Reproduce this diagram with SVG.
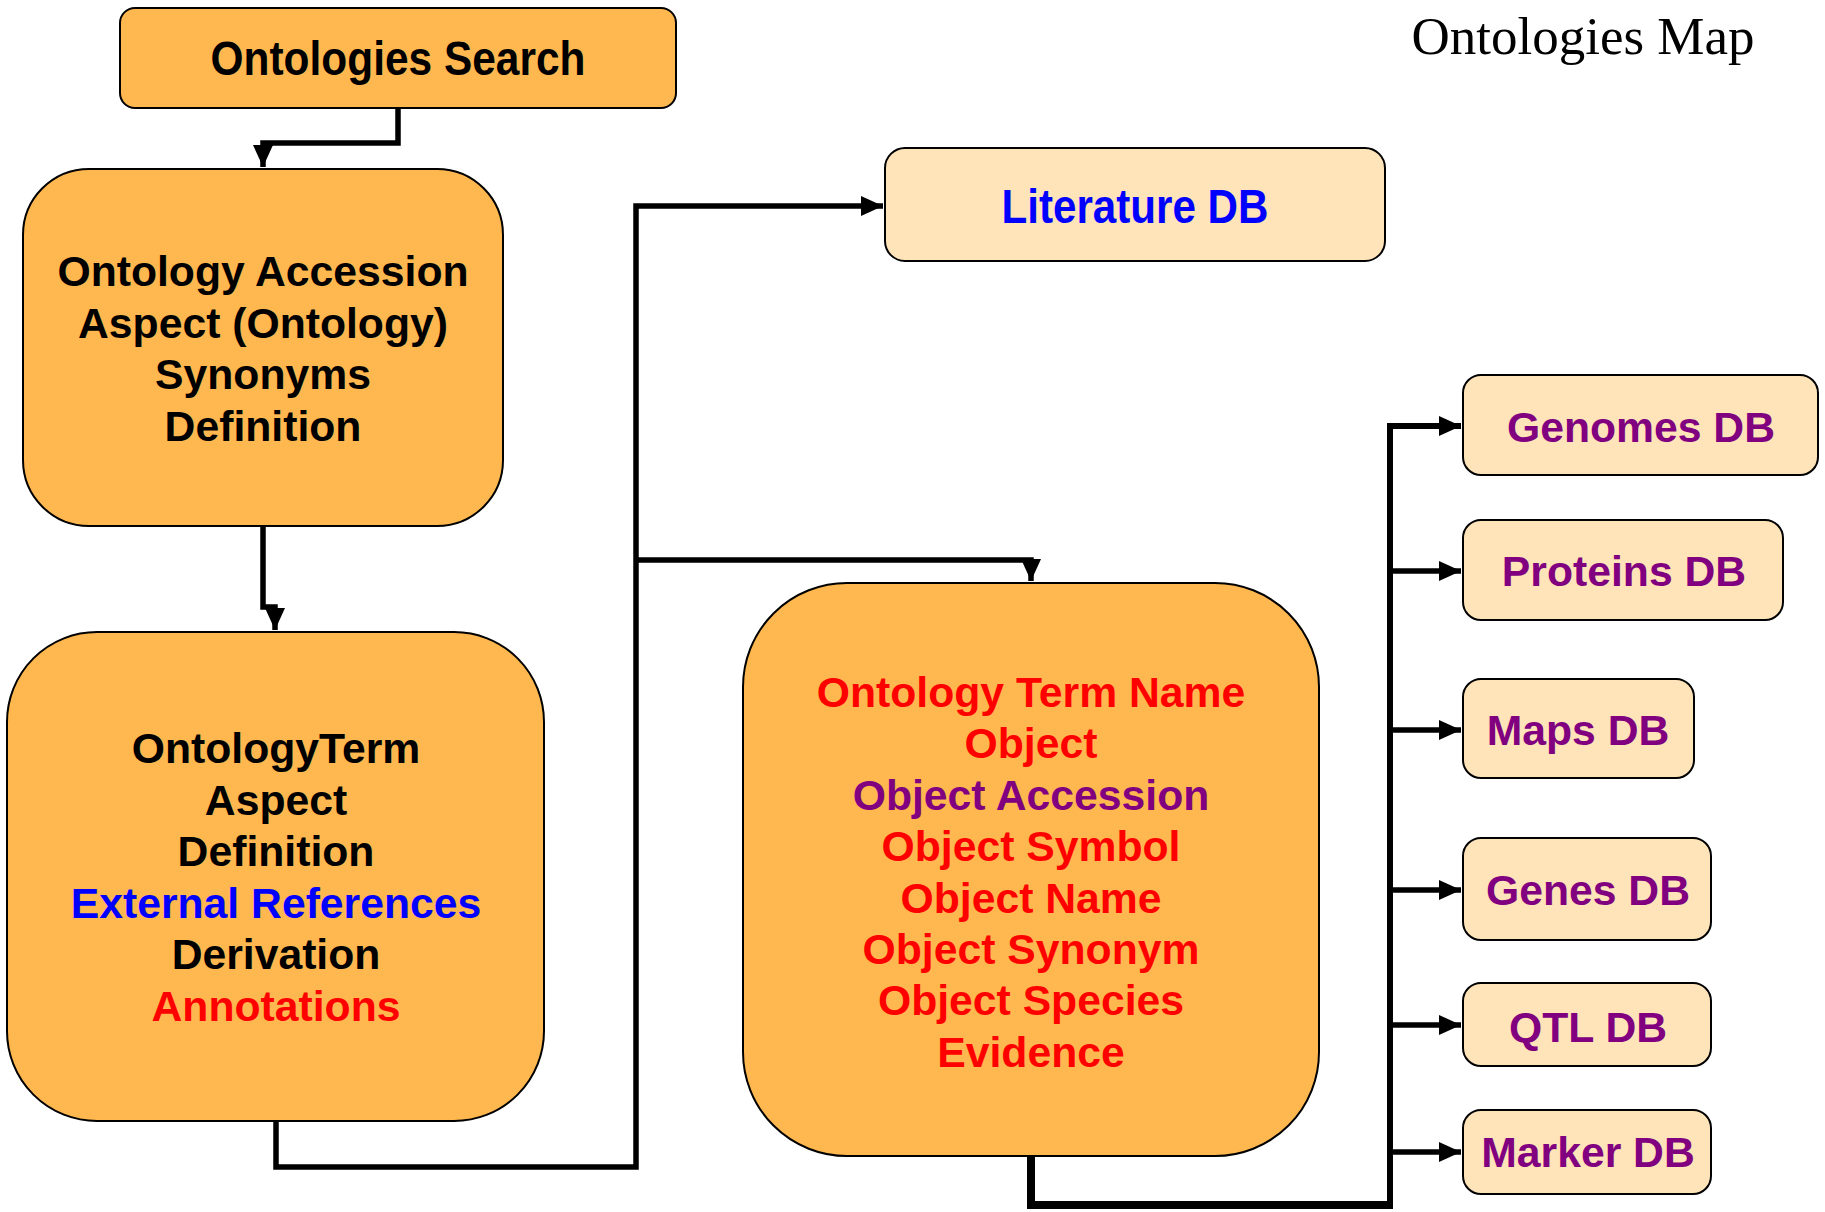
<svg xmlns="http://www.w3.org/2000/svg" width="1825" height="1212" viewBox="0 0 1825 1212">
<style>
  .orange { fill: #FFB74F; stroke: #000; stroke-width: 2; }
  .light { fill: #FFE3B9; stroke: #000; stroke-width: 2; }
  .t { font-family: "Liberation Sans", Arial, sans-serif; font-weight: bold; font-size: 42.7px; text-anchor: middle; }
  .blk { fill: #000; }
  .blue { fill: #0000FF; }
  .red { fill: #FF0000; }
  .pur { fill: #800080; }
  .wire { fill: none; stroke: #000; stroke-width: 5.5; stroke-linejoin: miter; }
  .title { font-family: "Liberation Serif", "Times New Roman", serif; font-size: 53px; text-anchor: middle; fill: #000; }
</style>
<defs>
  <marker id="arr" markerUnits="userSpaceOnUse" markerWidth="24" markerHeight="22" refX="22" refY="10" orient="auto">
    <path d="M0,0 L22,10 L0,20 z" fill="#000"/>
  </marker>
</defs>
<rect width="1825" height="1212" fill="#fff"/>

<text class="title" x="1583" y="54">Ontologies Map</text>

<g id="connectors">
  <path class="wire" d="M398,108 V143 H263 V167" marker-end="url(#arr)"/>
  <path class="wire" d="M263,526 V607 H275 V630" marker-end="url(#arr)"/>
  <path class="wire" d="M276,1121 V1167 H636 V206 H883" marker-end="url(#arr)"/>
  <path class="wire" d="M636,560 H1031 V581" marker-end="url(#arr)"/>
  <path class="wire" d="M1031,1156 V1205 H1390" style="stroke-width:8"/>
  <path class="wire" d="M1390,1209 V426 H1461" style="stroke-width:6" marker-end="url(#arr)"/>
  <path class="wire" d="M1390,571 H1461" marker-end="url(#arr)"/>
  <path class="wire" d="M1390,730 H1461" marker-end="url(#arr)"/>
  <path class="wire" d="M1390,890 H1461" marker-end="url(#arr)"/>
  <path class="wire" d="M1390,1025 H1461" marker-end="url(#arr)"/>
  <path class="wire" d="M1390,1152 H1461" marker-end="url(#arr)"/>
</g>

<g id="ontologies-search">
  <rect class="orange" x="120" y="8" width="556" height="100" rx="15"/>
  <text class="t blk" x="398" y="75" style="font-size:48px" textLength="375" lengthAdjust="spacingAndGlyphs">Ontologies Search</text>
</g>

<g id="literature-db">
  <rect class="light" x="885" y="148" width="500" height="113" rx="20"/>
  <text class="t blue" x="1135" y="223" style="font-size:48px" textLength="267" lengthAdjust="spacingAndGlyphs">Literature DB</text>
</g>

<g id="ontology-accession">
  <rect class="orange" x="23" y="169" width="480" height="357" rx="66"/>
  <text class="t blk" x="263" y="286">Ontology Accession</text>
  <text class="t blk" x="263" y="338">Aspect (Ontology)</text>
  <text class="t blk" x="263" y="389">Synonyms</text>
  <text class="t blk" x="263" y="441">Definition</text>
</g>

<g id="ontology-term">
  <rect class="orange" x="7" y="632" width="537" height="489" rx="90"/>
  <text class="t blk" x="276" y="763">OntologyTerm</text>
  <text class="t blk" x="276" y="815">Aspect</text>
  <text class="t blk" x="276" y="866">Definition</text>
  <text class="t blue" x="276" y="918">External References</text>
  <text class="t blk" x="276" y="969">Derivation</text>
  <text class="t red" x="276" y="1021">Annotations</text>
</g>

<g id="annotation">
  <rect class="orange" x="743" y="583" width="576" height="573" rx="104"/>
  <text class="t red" x="1031" y="707">Ontology Term Name</text>
  <text class="t red" x="1031" y="758">Object</text>
  <text class="t pur" x="1031" y="810">Object Accession</text>
  <text class="t red" x="1031" y="861">Object Symbol</text>
  <text class="t red" x="1031" y="913">Object Name</text>
  <text class="t red" x="1031" y="964">Object Synonym</text>
  <text class="t red" x="1031" y="1015">Object Species</text>
  <text class="t red" x="1031" y="1067">Evidence</text>
</g>

<g id="genomes-db">
  <rect class="light" x="1463" y="375" width="355" height="100" rx="18"/>
  <text class="t pur" x="1641" y="442">Genomes DB</text>
</g>
<g id="proteins-db">
  <rect class="light" x="1463" y="520" width="320" height="100" rx="18"/>
  <text class="t pur" x="1624" y="586">Proteins DB</text>
</g>
<g id="maps-db">
  <rect class="light" x="1463" y="679" width="231" height="99" rx="18"/>
  <text class="t pur" x="1578" y="745">Maps DB</text>
</g>
<g id="genes-db">
  <rect class="light" x="1463" y="838" width="248" height="102" rx="18"/>
  <text class="t pur" x="1588" y="905">Genes DB</text>
</g>
<g id="qtl-db">
  <rect class="light" x="1463" y="983" width="248" height="83" rx="18"/>
  <text class="t pur" x="1588" y="1042">QTL DB</text>
</g>
<g id="marker-db">
  <rect class="light" x="1463" y="1110" width="248" height="84" rx="18"/>
  <text class="t pur" x="1588" y="1167">Marker DB</text>
</g>
</svg>
